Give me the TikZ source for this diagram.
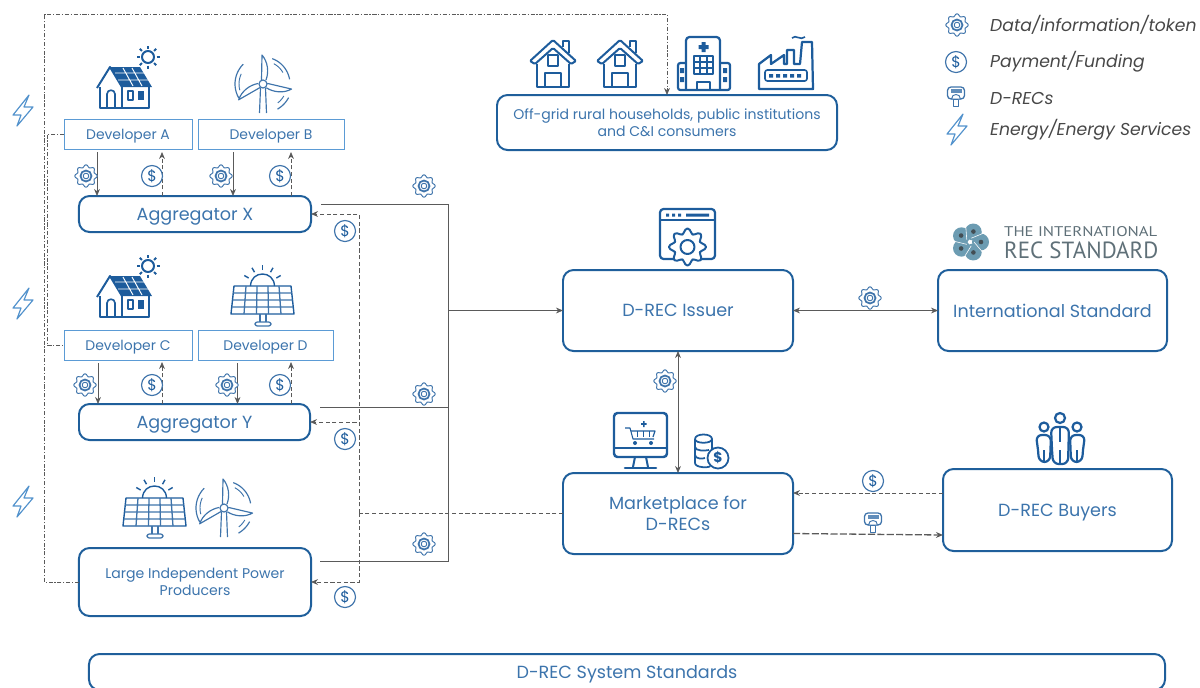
\documentclass[tikz,border=0pt]{standalone}
\usepackage{fontspec}
\setmainfont{Poppins}
\newfontfamily\logofont{PT Sans}
\usetikzlibrary{positioning, arrows.meta}

\definecolor{boxblue}{HTML}{1F5F9B}
\definecolor{devblue}{HTML}{5B9BD5}
\definecolor{textblue}{HTML}{3C74AC}
\definecolor{iconblue}{HTML}{1D5C9C}
\definecolor{lineGrey}{HTML}{5A5A5A}
\definecolor{logoGrey}{HTML}{5F7078}
\definecolor{logoBlue}{HTML}{6C9CB2}

\tikzset{
    >={Stealth[length=6pt, width=5pt]},
    mainbox/.style={draw=boxblue, line width=1.7pt, rounded corners=9pt, align=center,
        text=textblue, outer sep=0pt, font=\fontsize{15}{18.5}\selectfont},
    onebox/.style={mainbox, text depth=0pt},
    smallbox/.style={mainbox, font=\fontsize{12}{14.5}\selectfont},
    devbox/.style={draw=devblue, line width=0.7pt, text=textblue, outer sep=0pt, text depth=0pt,
        minimum height=0.9cm, font=\fontsize{11.9}{14}\selectfont},
    legendtext/.style={anchor=west, inner sep=0pt, text=black!72,
        font=\itshape\fontsize{14.7}{17}\selectfont},
    flow/.style={draw=lineGrey, line width=0.65pt},
    money/.style={flow, dash pattern=on 3.5pt off 2.2pt},
    recflow/.style={flow, line width=1.1pt, dash pattern=on 6pt off 2pt},
    energy/.style={flow, line width=0.6pt, dash pattern=on 3.5pt off 1.5pt on 1pt off 1.5pt},
    icon/.style={draw=iconblue, line width=1.4pt, line join=round},
    thinicon/.style={draw=iconblue!85, line width=0.8pt, line join=round},
    gearicon/.pic={
        \draw[thinicon, fill=white] plot[domain=0:352.5, samples=48, smooth cycle]
            ({(10+1.3*cos(8*\x))*cos(\x)},{(10+1.3*cos(8*\x))*sin(\x)});
        \draw[thinicon, line width=1.5pt] (0,0) circle (5.5);
        \draw[thinicon] (0,0) circle (2.8);
    },
    dollaricon/.pic={
        \draw[thinicon, fill=white, line width=1pt] (0,0) circle (10.5);
        \node[text=iconblue, inner sep=0pt, font=\fontsize{13}{13}\selectfont] (-sign) at (0,0) {\$};
    },
    drecicon/.pic={
        \draw[thinicon, fill=white, line width=1.1pt, rounded corners=3pt] (-8.5,-9) rectangle (8.5,3);
        \fill[iconblue!70] (-5.5,-7) rectangle (5.5,-3.5);
        \draw[thinicon, fill=white] (-4.5,3) .. controls (-4.5,-3) and (4.5,-3) .. (4.5,3) -- cycle;
        \draw[thinicon, fill=white] (-2.5,3) rectangle (2.5,10);
    },
    bolticon/.pic={
        \draw[draw=devblue!85!iconblue, line width=1pt, line join=round]
            (6,-16) -- (-10,4) -- (-2,4) -- (-6,15) -- (10,-4) -- (1,-4) -- cycle;
    },
    solarhouse/.pic={
        \draw[icon, line width=1.9pt] (3,40) -- (3,61) -- (52,61) -- (52,40);
        \draw[icon, line width=1.7pt] (0,41) -- (13,20) -- (25,40);
        \fill[iconblue] (13,20) -- (43,20) -- (55,40) -- (25,40) -- cycle;
        \draw[white, line width=0.8pt] (18,26) -- (47,26) (21,33) -- (51,33)
            (26,21) -- (36,39) (35,21) -- (45,39);
        \draw[icon] (25,40) -- (25,61);
        \draw[icon] (10,61) -- (10,47) .. controls (10,42) and (18,42) .. (18,47) -- (18,61);
        \draw[icon] (31,44) rectangle (36,53);
        \fill[iconblue] (41,44) rectangle (47,53);
        \draw[icon, line width=1.7pt] (51,10) circle (6);
        \foreach \a in {0,45,...,315}
            \draw[icon, line width=1.7pt] ({51+8.5*cos(\a)},{10+8.5*sin(\a)}) -- ({51+11.5*cos(\a)},{10+11.5*sin(\a)});
    },
    turbine/.pic={
        \foreach \r in {0,-102,121}
            \draw[thinicon, rotate=\r, line width=1pt] (-1.5,-4) -- (-1,-29)
                .. controls (5,-22) and (6,-12) .. (3,-4);
        \draw[thinicon, line width=1pt] (-2.5,4) -- (-3.5,29) (2.5,4) -- (3.5,29);
        \draw[thinicon, line width=1pt, fill=white] (0,0) circle (4);
        \draw[thinicon, line width=1pt] plot[domain=-70:-10, samples=12] ({27*cos(\x)},{27*sin(\x)});
        \draw[thinicon] plot[domain=-62:-30, samples=8] ({23*cos(\x)},{23*sin(\x)});
        \draw[thinicon, line width=1pt] plot[domain=28:60, samples=8] ({29*cos(\x)},{29*sin(\x)});
        \draw[thinicon] plot[domain=30:52, samples=6] ({24*cos(\x)},{24*sin(\x)});
        \draw[thinicon, line width=1pt] plot[domain=150:225, samples=12] ({28*cos(\x)},{28*sin(\x)});
        \draw[thinicon] plot[domain=165:205, samples=8] ({24*cos(\x)},{24*sin(\x)});
    },
    solarpanel/.pic={
        \draw[icon, line width=1.2pt] (3,19) -- (60,19) -- (63,47) -- (0,47) -- cycle;
        \draw[thinicon, line width=1.1pt] (2.2,26) -- (60.8,26) (1.5,33) -- (61.5,33) (0.8,40) -- (62.2,40)
            (15,19) -- (13,47) (26,19) -- (25.5,47) (37,19) -- (37.5,47) (48,19) -- (50,47);
        \draw[thinicon, line width=1.1pt] (29,47) -- (29,55) (35,47) -- (35,55);
        \draw[thinicon, line width=1.1pt, rounded corners=2pt] (24,59) -- (24,55) -- (40,55) -- (40,59) -- cycle;
        \draw[icon, line width=1.2pt] (19.5,19) .. controls (20,3) and (43,3) .. (43.5,19);
        \foreach \a in {-150,-120,-90,-60,-30}
            \draw[icon, line width=1.2pt] ({31.5+16*cos(\a)},{19+16*sin(\a)}) -- ({31.5+21*cos(\a)},{19+21*sin(\a)});
    },
    homeicon/.pic={
        \draw[icon, line width=1.7pt, rounded corners=1pt] (0,22) -- (23,1) -- (46,22) -- (41,25) -- (23,9) -- (5,25) -- cycle;
        \draw[icon, line width=1.7pt] (7,25) -- (7,48) -- (39,48) -- (39,25);
        \draw[icon] (33,8) -- (33,2) -- (39,2) -- (39,14);
        \draw[icon, line width=1.6pt] (18,16) rectangle (28,27);
        \draw[icon, line width=1.6pt] (15,48) -- (15,34) -- (31,34) -- (31,48);
    },
    hospital/.pic={
        \draw[icon, line width=1.9pt, rounded corners=3pt] (9,55) -- (9,2) -- (43,2) -- (43,55);
        \draw[icon, line width=1.9pt, rounded corners=2pt] (9,28) -- (1,28) -- (1,55) -- (53,55) -- (53,28) -- (43,28);
        \fill[iconblue] (24.5,7) rectangle (28.5,17) (21.5,10) rectangle (31.5,14);
        \draw[icon] (17,21) rectangle (36,39) (23,21) -- (23,39) (30,21) -- (30,39) (17,27) -- (36,27) (17,33) -- (36,33);
        \draw[icon] (20,55) -- (20,47) -- (33,47) -- (33,55);
        \fill[iconblue] (3,33) rectangle (7,38) (3,42) rectangle (7,47) (46,33) rectangle (50,38) (46,42) rectangle (50,47);
    },
    factory/.pic={
        \draw[icon, line width=1.9pt] (1,54) -- (1,29) -- (13,20) -- (13,29) -- (26,20) -- (26,29) -- (29,29) -- (29,15)
            -- (36,15) -- (36,29) -- (42,29) -- (44,7) -- (54,7) -- (55,54) -- cycle;
        \draw[icon, rounded corners=2pt] (7,35) rectangle (49,46);
        \fill[iconblue] (11,39) rectangle (15,42.5) (18,39) rectangle (22,42.5) (25,39) rectangle (29,42.5)
            (32,39) rectangle (36,42.5) (39,39) rectangle (43,42.5);
        \draw[icon] (34,3) .. controls (38,-1) and (42,6) .. (47,2);
    },
    windowgear/.pic={
        \draw[icon, line width=1.9pt, rounded corners=3pt] (0,0) rectangle (55,50);
        \draw[icon] (0,11) -- (55,11);
        \fill[iconblue] (6,4.5) rectangle (9,7.5) (12,4.5) rectangle (15,7.5) (18,4.5) rectangle (21,7.5) (26,4.5) rectangle (49,7.5);
        \draw[icon, fill=white, line width=1.7pt] plot[domain=0:352.5, samples=48, smooth cycle]
            ({27.5+(16+2.6*cos(8*\x))*cos(\x)},{38+(16+2.6*cos(8*\x))*sin(\x)});
        \draw[icon, line width=1.7pt] (27.5,38) circle (7);
    },
    shopscreen/.pic={
        \draw[icon, line width=2.1pt, rounded corners=3pt] (1,1) rectangle (54,45);
        \draw[icon, line width=1.7pt] (1,36) -- (54,36);
        \draw[icon, line width=1.7pt] (22,45) -- (20,55) (33,45) -- (35,55);
        \draw[icon, line width=2.2pt, line cap=round] (12,56) -- (43,56);
        \draw[icon, line width=0.9pt] (12,16) -- (17,16) -- (20,27) -- (41,27);
        \draw[icon, line width=1pt] (18,19) -- (42,19) -- (40,25);
        \draw[icon, line width=0.8pt] (24,19) -- (24,25) (30,19) -- (30,25) (36,19) -- (36,25);
        \fill[iconblue] (22,31) circle (2) (38,31) circle (2);
        \fill[iconblue] (30,9) rectangle (31.5,15) (28,11.2) rectangle (33.5,12.8);
    },
    coinstack/.pic={
        \draw[icon, line width=1.5pt] (0,4) -- (0,28) .. controls (0,33) and (15,33) .. (15,31)
            (0,4) .. controls (0,-2) and (17,-2) .. (17,4) .. controls (17,9) and (0,9) .. (0,4)
            (17,4) -- (17,14)
            (0,12) .. controls (0,16) and (10,16) .. (14,15)
            (0,20) .. controls (0,24) and (8,24) .. (10,23);
        \draw[icon, fill=white, line width=1.5pt] (23,23) circle (10.5);
        \node[text=iconblue, inner sep=0pt, font=\bfseries\fontsize{12}{12}\selectfont] (-sign) at (23,23) {\$};
    },
    peopleicon/.pic={
        \draw[icon, line width=1.9pt] (10,15) circle (4.5) (43,15) circle (4.5) (26,6) circle (5);
        \draw[icon, line width=1.9pt, rounded corners=5pt] (4,38) -- (2,23) -- (17,23) -- (16,50) -- (5,50) -- (4,38);
        \draw[icon, line width=1.9pt, rounded corners=5pt] (49,38) -- (51,23) -- (36,23) -- (37,50) -- (48,50) -- (49,38);
        \draw[icon, fill=white, line width=1.9pt, rounded corners=5pt] (18,38) -- (17,15) -- (35,15) -- (34,52) -- (19,52) -- (18,38);
        \draw[icon, line width=1.7pt] (26,15) -- (26,30) (26,38) -- (26,52) (10,38) -- (10,50) (43,38) -- (43,50);
    },
    logomark/.pic={
        \foreach \a in {0,72,144,216,288} {
            \fill[logoBlue] ({10.5*cos(\a)},{10.5*sin(\a)}) circle (8.5);
        }
        \foreach \a in {0,72,144,216,288} {
            \draw[white, line width=0.5pt] ({4*cos(\a)},{4*sin(\a)}) -- ({18*cos(\a+40)},{18*sin(\a+40)});
            \fill[logoGrey!70!black] ({11*cos(\a)},{11*sin(\a)}) circle (2.3);
        }
    },
}

\begin{document}
\begin{tikzpicture}[x=0.03cm, y=-0.03cm]
    \useasboundingbox (0,0) rectangle (1200,687);

    % boxes
    \node[devbox, minimum width=3.84cm] (DevA) at (128,134) {Developer A};
    \node[devbox, minimum width=4.38cm, right=0.18cm of DevA] (DevB) {Developer B};
    \node[onebox, minimum width=6.96cm, minimum height=1.08cm] (AggX) at (195,214) {Aggregator X};

    \node[devbox, minimum width=3.84cm] (DevC) at (128,345) {Developer C};
    \node[devbox, minimum width=4.05cm, right=0.18cm of DevC] (DevD) {Developer D};
    \node[onebox, minimum width=6.93cm, minimum height=1.08cm] (AggY) at (194.5,422) {Aggregator Y};

    \node[smallbox, minimum width=6.96cm, minimum height=2.04cm] (IPP) at (195,582) {Large Independent Power\\Producers};
    \node[smallbox, minimum width=10.2cm, minimum height=1.65cm] (Offgrid) at (667,122.5) {Off-grid rural households, public institutions\\and C\&I consumers};

    \node[onebox, minimum width=6.9cm, minimum height=2.43cm] (Issuer) at (678,310.5) {D-REC Issuer};
    \node[onebox, minimum width=6.87cm, minimum height=2.43cm, right=4.35cm of Issuer] (Intl) {International Standard};
    \node[mainbox, minimum width=6.9cm, minimum height=2.43cm, below=3.66cm of Issuer] (Market) {Marketplace for\\D-RECs};
    \node[onebox, minimum width=6.87cm, minimum height=2.46cm] (Buyers) at (1057.5,510) {D-REC Buyers};
    \node[onebox, minimum width=32.28cm, minimum height=1.08cm] (SysStd) at (627,672) {D-REC System Standards};

    \coordinate (tradeBus) at (448,310.5);
    \coordinate (payBus) at (359,513);

    % data flows
    \draw[flow, ->] ([xshift=-0.93cm]DevA.south) ++(0,3) -- ([xshift=-0.93cm]DevA.south |- AggX.north);
    \draw[flow, ->] ([xshift=-1.14cm]DevB.south) ++(0,3) -- ([xshift=-1.14cm]DevB.south |- AggX.north);
    \draw[flow, ->] ([xshift=-0.9cm]DevC.south) ++(0,3) -- ([xshift=-0.9cm]DevC.south |- AggY.north);
    \draw[flow, ->] ([xshift=-0.84cm]DevD.south) ++(0,3) -- ([xshift=-0.84cm]DevD.south |- AggY.north);

    \draw[flow] ([shift={(10,-10)}]AggX.east) -| (tradeBus);
    \draw[flow] ([shift={(10,-15)}]AggY.east) -| (tradeBus);
    \draw[flow] ([shift={(9,-21)}]IPP.east) -| (tradeBus);
    \draw[flow, ->] (tradeBus) -- (Issuer.west);
    \draw[flow, <->] (Issuer.east) -- (Intl.west);
    \draw[flow, <->] (Issuer.south) -- (Market.north);

    % payments
    \draw[money, ->] ([xshift=1.02cm]DevA.south |- AggX.north) -- ++(0,-44);
    \draw[money, ->] ([xshift=4.89cm]DevA.south |- AggX.north) -- ++(0,-44);
    \draw[money, ->] ([xshift=1.02cm]DevC.south |- AggY.north) -- ++(0,-42);
    \draw[money, ->] ([xshift=4.89cm]DevC.south |- AggY.north) -- ++(0,-42);

    \draw[money] (Market.west |- payBus) -- (payBus);
    \draw[money, ->] (payBus) |- (AggX.east);
    \draw[money, ->] (payBus) |- (AggY.east);
    \draw[money, ->] (payBus) |- (IPP.east);
    \draw[money, ->] ([yshift=0.51cm]Buyers.west) -- ([yshift=0.51cm]Buyers.west -| Market.east);
    \draw[recflow, ->] ([yshift=-0.6cm]Market.east) -- ([yshift=-0.75cm]Buyers.west);

    % energy
    \coordinate (energyTop) at (44,14);
    \draw[energy, ->] (IPP.west) -| (energyTop) -| (Offgrid.north);
    \draw[energy] (DevA.west) -| (47,345) -- (DevC.west);

    % icons
    \pic at (97,47) {solarhouse};
    \pic at (263,84) {turbine};
    \pic at (97,256) {solarhouse};
    \pic at (231,267) {solarpanel};
    \pic at (123,479) {solarpanel};
    \pic at (224,508) {turbine};

    \pic at (530,39) {homeicon};
    \pic at (597,39) {homeicon};
    \pic at (677,35) {hospital};
    \pic at (758,35) {factory};
    \pic at (660,209) {windowgear};
    \pic at (613,412) {shopscreen};
    \pic at (695,435) {coinstack};
    \pic at (1034,412) {peopleicon};

    \pic at (86,176) {gearicon};
    \pic at (221,176) {gearicon};
    \pic at (85,385) {gearicon};
    \pic at (227,385) {gearicon};
    \pic at (424,186) {gearicon};
    \pic at (424,394) {gearicon};
    \pic at (424,544) {gearicon};
    \pic at (870,298) {gearicon};
    \pic at (665,381) {gearicon};
    \pic at (957,25) {gearicon};

    \pic at (152,176) {dollaricon};
    \pic at (280,176) {dollaricon};
    \pic at (152,385) {dollaricon};
    \pic at (280,385) {dollaricon};
    \pic at (345,231) {dollaricon};
    \pic at (345,439) {dollaricon};
    \pic at (345,597) {dollaricon};
    \pic at (873,481) {dollaricon};
    \pic at (956,62) {dollaricon};

    \pic at (873,522) {drecicon};
    \pic at (956,96) {drecicon};

    \pic at (23,111) {bolticon};
    \pic at (23,304) {bolticon};
    \pic at (23,502) {bolticon};
    \pic at (957,130) {bolticon};

    % logo
    \pic at (970,242) {logomark};
    \node[inner sep=0pt, anchor=west, text=logoGrey] (logoTop) at (1004,232) {\logofont\resizebox{4.59cm}{0.3cm}{THE INTERNATIONAL}};
    \node[inner sep=0pt, anchor=west, text=logoGrey] (logoBottom) at (1004,250) {\logofont\resizebox{4.62cm}{0.5cm}{REC STANDARD}};

    % legend
    \node[legendtext] (legData) at (990,25) {Data/information/token};
    \node[legendtext] (legPay) at (990,62) {Payment/Funding};
    \node[legendtext] (legRec) at (990,98) {D-RECs};
    \node[legendtext] (legEnergy) at (990,130) {Energy/Energy Services};
\end{tikzpicture}
\end{document}
